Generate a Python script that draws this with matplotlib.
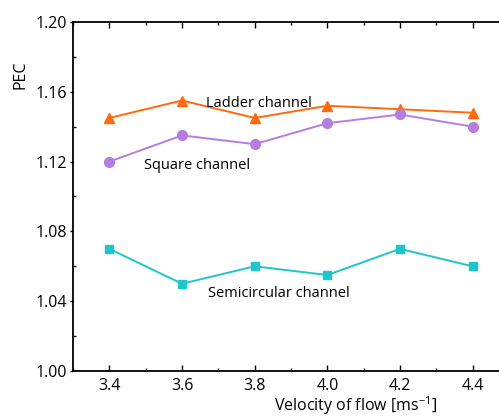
import matplotlib.pyplot as plt
from matplotlib.ticker import MultipleLocator, FuncFormatter

# Data
velocity = [3.4, 3.6, 3.8, 4.0, 4.2, 4.4]
ladder = [1.145, 1.155, 1.145, 1.152, 1.150, 1.148]
square = [1.120, 1.135, 1.130, 1.142, 1.147, 1.140]
semicircular = [1.070, 1.050, 1.060, 1.055, 1.070, 1.060]

plt.rcParams['font.family'] = ['Open Sans', 'DejaVu Sans']

W, H = 499, 417
fig = plt.figure(figsize=(W / 100, H / 100), dpi=100)
# axes runs off the right edge like the reference
left, right, top, bottom = 73, 509, 22, 371
ax = fig.add_axes([left / W, 1 - bottom / H, (right - left) / W, (bottom - top) / H])

ax.plot(velocity, ladder, color='#ff6a0d', marker='^', markersize=7, lw=1.4)
ax.plot(velocity, square, color='#b47ddf', marker='o', markersize=7, lw=1.4)
ax.plot(velocity, semicircular, color='#1fc6c9', marker='s', markersize=6, lw=1.4)

ax.text(3.665, 1.1535, 'Ladder channel', fontsize=10.5, va='center')
ax.text(3.495, 1.1175, 'Square channel', fontsize=10.5, va='center')
ax.text(3.672, 1.0445, 'Semicircular channel', fontsize=10.5, va='center')

ax.set_xlim(3.3, 4.5)
ax.set_ylim(1.0, 1.2)
ax.xaxis.set_major_locator(MultipleLocator(0.2))
ax.xaxis.set_minor_locator(MultipleLocator(0.1))
ax.yaxis.set_major_locator(MultipleLocator(0.04))
ax.yaxis.set_minor_locator(MultipleLocator(0.02))
ax.xaxis.set_major_formatter(FuncFormatter(lambda v, p: f'{v:.1f}'))
ax.yaxis.set_major_formatter(FuncFormatter(lambda v, p: f'{v:.2f}'))

ax.tick_params(axis='x', which='both', direction='in', top=True, labelsize=11.5, width=1)
ax.tick_params(axis='x', which='major', length=4, pad=5)
ax.tick_params(axis='x', which='minor', length=2.5)
ax.tick_params(axis='y', which='major', direction='out', length=2.5, width=1,
               labelsize=11.5, pad=2)
ax.tick_params(axis='y', which='minor', direction='in', length=2.5, width=1)
for s in ax.spines.values():
    s.set_linewidth(1.3)

fig.text(20 / W, 1 - 75 / H, 'PEC', rotation=90, fontsize=11.5, ha='center', va='center')
fig.text(356 / W, 1 - 406 / H, 'Velocity of flow [ms$^{\\mathregular{-1}}$]', fontsize=11.5,
         ha='center', va='center')

fig.savefig('out.png', dpi=100)
